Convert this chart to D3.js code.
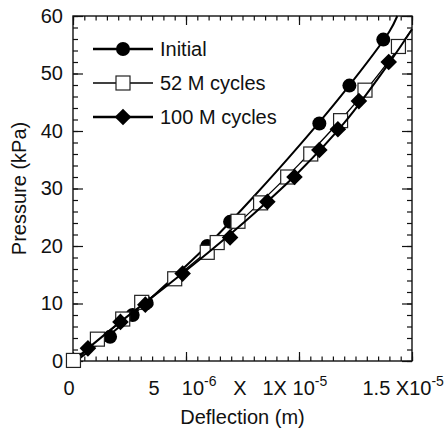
<!DOCTYPE html>
<html>
<head>
<meta charset="utf-8">
<script src="https://cdn.jsdelivr.net/npm/d3@7"></script>
<style>
  body { margin: 0; background: #fff; }
  text { font-family: "Liberation Sans", Arial, sans-serif; fill: #111; }
</style>
</head>
<body>
<script>
const width = 446;
const height = 430;

// deflection in micrometres (1e-6 m), pressure in kPa
const seriesNames = ['Initial', '52 M cycles', '100 M cycles'];

const initialPts = [
  [1.64, 4.2], [2.64, 8.0], [3.26, 10.1], [5.94, 20.0], [6.95, 24.2],
  [10.9, 41.3], [12.23, 47.9], [13.73, 55.9]
];
const cycles52Pts = [
  [0.02, 0.1], [1.08, 3.8], [2.2, 7.3], [3.04, 10.2], [4.5, 14.3],
  [5.94, 18.9], [6.38, 20.6], [7.3, 24.3], [8.3, 27.5], [9.5, 32.0],
  [10.52, 36.0], [11.84, 41.8], [12.92, 47.1], [14.4, 54.7]
];
const cycles100Pts = [
  [0.66, 2.2], [2.1, 6.8], [3.2, 9.8], [4.85, 15.2], [6.95, 21.5],
  [8.6, 27.7], [9.8, 32.0], [10.9, 36.7], [11.72, 40.3], [12.65, 45.2],
  [13.97, 52.0]
];

// fitted curves as they appear in the figure
const initialFit = [
  [0.3, 0.5], [2, 5.8], [4, 12.9], [6, 20.3], [8, 28.6],
  [10, 37.4], [12, 46.8], [14, 57.3], [14.35, 60]
];
const cycles52Fit = [
  [0.3, 0.8], [2, 6.5], [4, 12.8], [6, 19.3], [8, 26.5],
  [10, 34.2], [12, 42.6], [14, 52.3], [15, 57.7]
];
const cycles100Fit = [
  [0.3, 1.0], [2, 6.5], [4, 12.6], [6, 18.9], [8, 25.6],
  [10, 32.9], [12, 41.4], [14, 51.9], [15, 57.7]
];

const xTickValues = [0, 5, 10, 15];
const xTickText = ['0', '5    10^-6   X', '1X 10^-5', '1.5 X10^-5'];
const yTickValues = [0, 10, 20, 30, 40, 50, 60];

const plot = { left: 73, right: 412, top: 16, bottom: 361 };

const svg = d3.select('body').append('svg')
    .attr('width', width)
    .attr('height', height);

const x = d3.scaleLinear().domain([0, 15]).range([plot.left, plot.right]);
const y = d3.scaleLinear().domain([0, 60]).range([plot.bottom, plot.top]);

function cleanAxis(g) {
  g.select('.domain').remove();
  g.selectAll('.tick line').attr('stroke', '#111').attr('stroke-width', 1.2);
}

// minor ticks, all four sides
const xMinor = d3.range(0, 15.001, 0.5);
const yMinor = d3.range(0, 60.001, 2);
svg.append('g').attr('transform', `translate(0,${plot.bottom})`)
    .call(d3.axisBottom(x).tickValues(xMinor).tickSize(-4.5).tickFormat(''))
    .call(cleanAxis);
svg.append('g').attr('transform', `translate(0,${plot.top})`)
    .call(d3.axisTop(x).tickValues(xMinor).tickSize(-4.5).tickFormat(''))
    .call(cleanAxis);
svg.append('g').attr('transform', `translate(${plot.left},0)`)
    .call(d3.axisLeft(y).tickValues(yMinor).tickSize(-5).tickFormat(''))
    .call(cleanAxis);
svg.append('g').attr('transform', `translate(${plot.right},0)`)
    .call(d3.axisRight(y).tickValues(yMinor).tickSize(-5).tickFormat(''))
    .call(cleanAxis);

// major ticks
svg.append('g').attr('transform', `translate(0,${plot.top})`)
    .call(d3.axisTop(x).tickValues(xTickValues).tickSize(-9).tickFormat(''))
    .call(cleanAxis);
svg.append('g').attr('transform', `translate(${plot.right},0)`)
    .call(d3.axisRight(y).tickValues(yTickValues).tickSize(-10).tickFormat(''))
    .call(cleanAxis);

const yAxisG = svg.append('g').attr('transform', `translate(${plot.left},0)`)
    .call(d3.axisLeft(y).tickValues(yTickValues).tickSize(-10).tickPadding(10))
    .call(cleanAxis);
yAxisG.selectAll('.tick text')
    .attr('font-size', 20)
    .attr('font-family', '"Liberation Sans", Arial, sans-serif')
    .attr('fill', '#111');

// x labels: garbled exponent labels as in the original
const xLabelShift = [-10, -38, -37, -50];
const xAxisG = svg.append('g').attr('transform', `translate(0,${plot.bottom})`)
    .call(d3.axisBottom(x).tickValues(xTickValues).tickSize(-9).tickFormat(''))
    .call(cleanAxis);
xAxisG.selectAll('.tick text').each(function (d, i) {
  const t = d3.select(this)
      .attr('font-size', 20)
      .attr('font-family', '"Liberation Sans", Arial, sans-serif')
      .attr('fill', '#111')
      .attr('text-anchor', 'start')
      .attr('x', xLabelShift[i])
      .attr('y', 34)
      .attr('dy', 0)
      .style('white-space', 'pre');
  const parts = xTickText[i].split(/(\^-\d)/);
  let back = 0;
  parts.forEach(p => {
    if (!p) return;
    if (p.startsWith('^')) {
      t.append('tspan').attr('font-size', 14).attr('dy', -9).text(p.slice(1));
      back = 9;
    } else {
      t.append('tspan').attr('dy', back).text(p);
      back = 0;
    }
  });
});

// frame
svg.append('rect')
    .attr('x', plot.left).attr('y', plot.top)
    .attr('width', plot.right - plot.left).attr('height', plot.bottom - plot.top)
    .attr('fill', 'none').attr('stroke', '#111').attr('stroke-width', 1.4);

// axis titles
svg.append('text')
    .attr('x', (plot.left + plot.right) / 2).attr('y', 424)
    .attr('text-anchor', 'middle').attr('font-size', 20)
    .text('Deflection (m)');
svg.append('text')
    .attr('transform', `translate(26,${(plot.top + plot.bottom) / 2}) rotate(-90)`)
    .attr('text-anchor', 'middle').attr('font-size', 20)
    .text('Pressure (kPa)');

const line = d3.line()
    .x(d => x(d[0]))
    .y(d => y(d[1]))
    .curve(d3.curveCatmullRom);

function diamond(s) {
  return `M0,${-s}L${s},0L0,${s}L${-s},0Z`;
}

const series = [
  { name: seriesNames[0], pts: initialPts, fit: initialFit, lw: 2, legW: 2.6, marker: 'circle' },
  { name: seriesNames[1], pts: cycles52Pts, fit: cycles52Fit, lw: 1.3, legW: 1.5, marker: 'square' },
  { name: seriesNames[2], pts: cycles100Pts, fit: cycles100Fit, lw: 2, legW: 2.6, marker: 'diamond' }
];

function drawMarker(g, type) {
  if (type === 'circle') {
    g.append('circle').attr('r', 7).attr('fill', '#000');
  } else if (type === 'square') {
    g.append('rect').attr('x', -7).attr('y', -7).attr('width', 14).attr('height', 14)
        .attr('fill', '#fff').attr('stroke', '#222').attr('stroke-width', 1.2);
  } else {
    g.append('path').attr('d', diamond(8.3)).attr('fill', '#000');
  }
}

series.forEach(s => {
  svg.append('path')
      .datum(s.fit)
      .attr('d', line)
      .attr('fill', 'none')
      .attr('stroke', '#000')
      .attr('stroke-width', s.lw);
  svg.append('g').selectAll('g')
      .data(s.pts)
      .enter().append('g')
      .attr('transform', d => `translate(${x(d[0])},${y(d[1])})`)
      .each(function () { drawMarker(d3.select(this), s.marker); });
});

// legend
const legend = svg.append('g');
series.forEach((s, i) => {
  const ly = 49 + i * 34;
  legend.append('line')
      .attr('x1', 93).attr('x2', 153).attr('y1', ly).attr('y2', ly)
      .attr('stroke', '#000').attr('stroke-width', s.legW);
  const m = legend.append('g').attr('transform', `translate(123,${ly})`);
  drawMarker(m, s.marker);
  legend.append('text')
      .attr('x', 160).attr('y', ly).attr('dy', '0.35em')
      .attr('font-size', 20)
      .text(s.name);
});
</script>
</body>
</html>
